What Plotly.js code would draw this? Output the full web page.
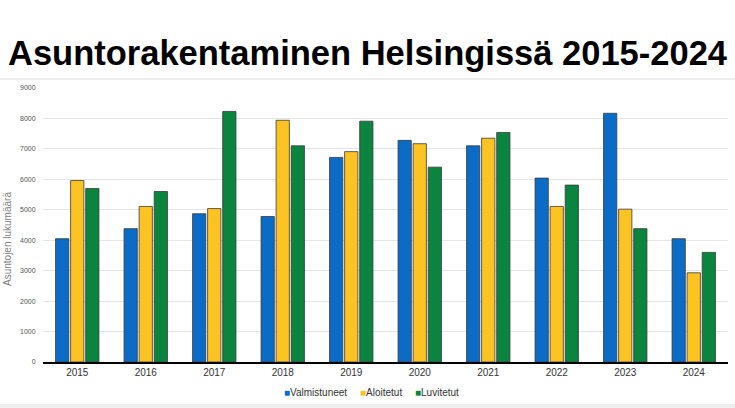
<!DOCTYPE html>
<html>
<head>
<meta charset="utf-8">
<script src="https://cdn.plot.ly/plotly-3.0.1.min.js"></script>
<style>html,body{margin:0;padding:0;background:#fff;}#chart{width:735px;height:408px;}</style>
</head>
<body>
<div id="chart"></div>
<script>
var years = ['2015','2016','2017','2018','2019','2020','2021','2022','2023','2024'];
var valmistuneet = [4050, 4380, 4870, 4780, 6720, 7280, 7100, 6040, 8170, 4050];
var aloitetut    = [5960, 5110, 5040, 7940, 6910, 7170, 7350, 5110, 5020, 2930];
var luvitetut    = [5700, 5600, 8230, 7100, 7910, 6400, 7540, 5810, 4380, 3600];
var seriesNames  = ['Valmistuneet', 'Aloitetut', 'Luvitetut'];
var seriesColors = ['#0a6cc6', '#fdc322', '#0b843f'];
var seriesValues = [valmistuneet, aloitetut, luvitetut];
var yTicks = [0,1000,2000,3000,4000,5000,6000,7000,8000,9000];
var yTitle = 'Asuntojen lukumäärä';

var FONT = 'Liberation Sans, Arial, sans-serif';

var traces = seriesValues.map(function(v, i){
  return {
    type: 'bar', name: seriesNames[i], x: years, y: v,
    marker: {color: seriesColors[i], line: {color: '#3a3a3a', width: 0.8}},
    hoverinfo: 'x+y+name'
  };
});

var legendX = [282, 358, 413];
var annotations = seriesNames.map(function(n, i){
  return {
    xref: 'paper', yref: 'paper',
    x: (legendX[i] - 43) / 685, y: -30 / 274,
    xanchor: 'left', yanchor: 'middle', showarrow: false,
    text: '<span style="color:' + seriesColors[i] + '">■</span>' + n,
    font: {family: FONT, size: 10, color: '#333'}
  };
});
annotations.push({
  xref: 'paper', yref: 'paper', x: (7 - 43) / 685, y: (362 - 239) / 274,
  xanchor: 'center', yanchor: 'middle', showarrow: false, textangle: -90,
  text: yTitle, font: {family: FONT, size: 10, color: '#808080'}
});

var layout = {
  width: 735, height: 408,
  margin: {l: 43, r: 7, t: 88, b: 46, pad: 0},
  paper_bgcolor: '#fff', plot_bgcolor: '#fff',
  title: {
    text: '<b>Asuntorakentaminen Helsingissä 2015-2024</b>',
    font: {family: FONT, size: 34.5, color: '#000'},
    x: 0.5, xanchor: 'center', xref: 'container',
    y: 1 - 53/408, yanchor: 'middle', yref: 'container'
  },
  showlegend: false,
  barmode: 'group', bargap: 0.34, bargroupgap: 0.12,
  xaxis: {
    type: 'category', showline: true, linecolor: '#000', linewidth: 2,
    showgrid: false, ticks: '', zeroline: false,
    tickfont: {family: FONT, size: 10, color: '#333'}
  },
  yaxis: {
    range: [0, 9000], tickvals: yTicks, ticktext: yTicks.map(String),
    showgrid: true, gridcolor: '#e6e6e6', gridwidth: 1, zeroline: false, showline: false,
    ticks: 'outside', ticklen: 5, tickcolor: 'rgba(0,0,0,0)',
    tickfont: {family: FONT, size: 7, color: '#555'},
    automargin: false
  },
  annotations: annotations,
  shapes: [
    {type: 'line', xref: 'paper', yref: 'paper', x0: -43/685, x1: 692/685,
     y0: (408-46-79)/274, y1: (408-46-79)/274, line: {color: '#dcdcdc', width: 1}},
    {type: 'rect', xref: 'paper', yref: 'paper', x0: -43/685, x1: 692/685,
     y0: -42/274, y1: -46/274, fillcolor: '#eeeeee', line: {width: 0}}
  ]
};

Plotly.newPlot('chart', traces, layout, {displayModeBar: false, staticPlot: true});
</script>
</body>
</html>
